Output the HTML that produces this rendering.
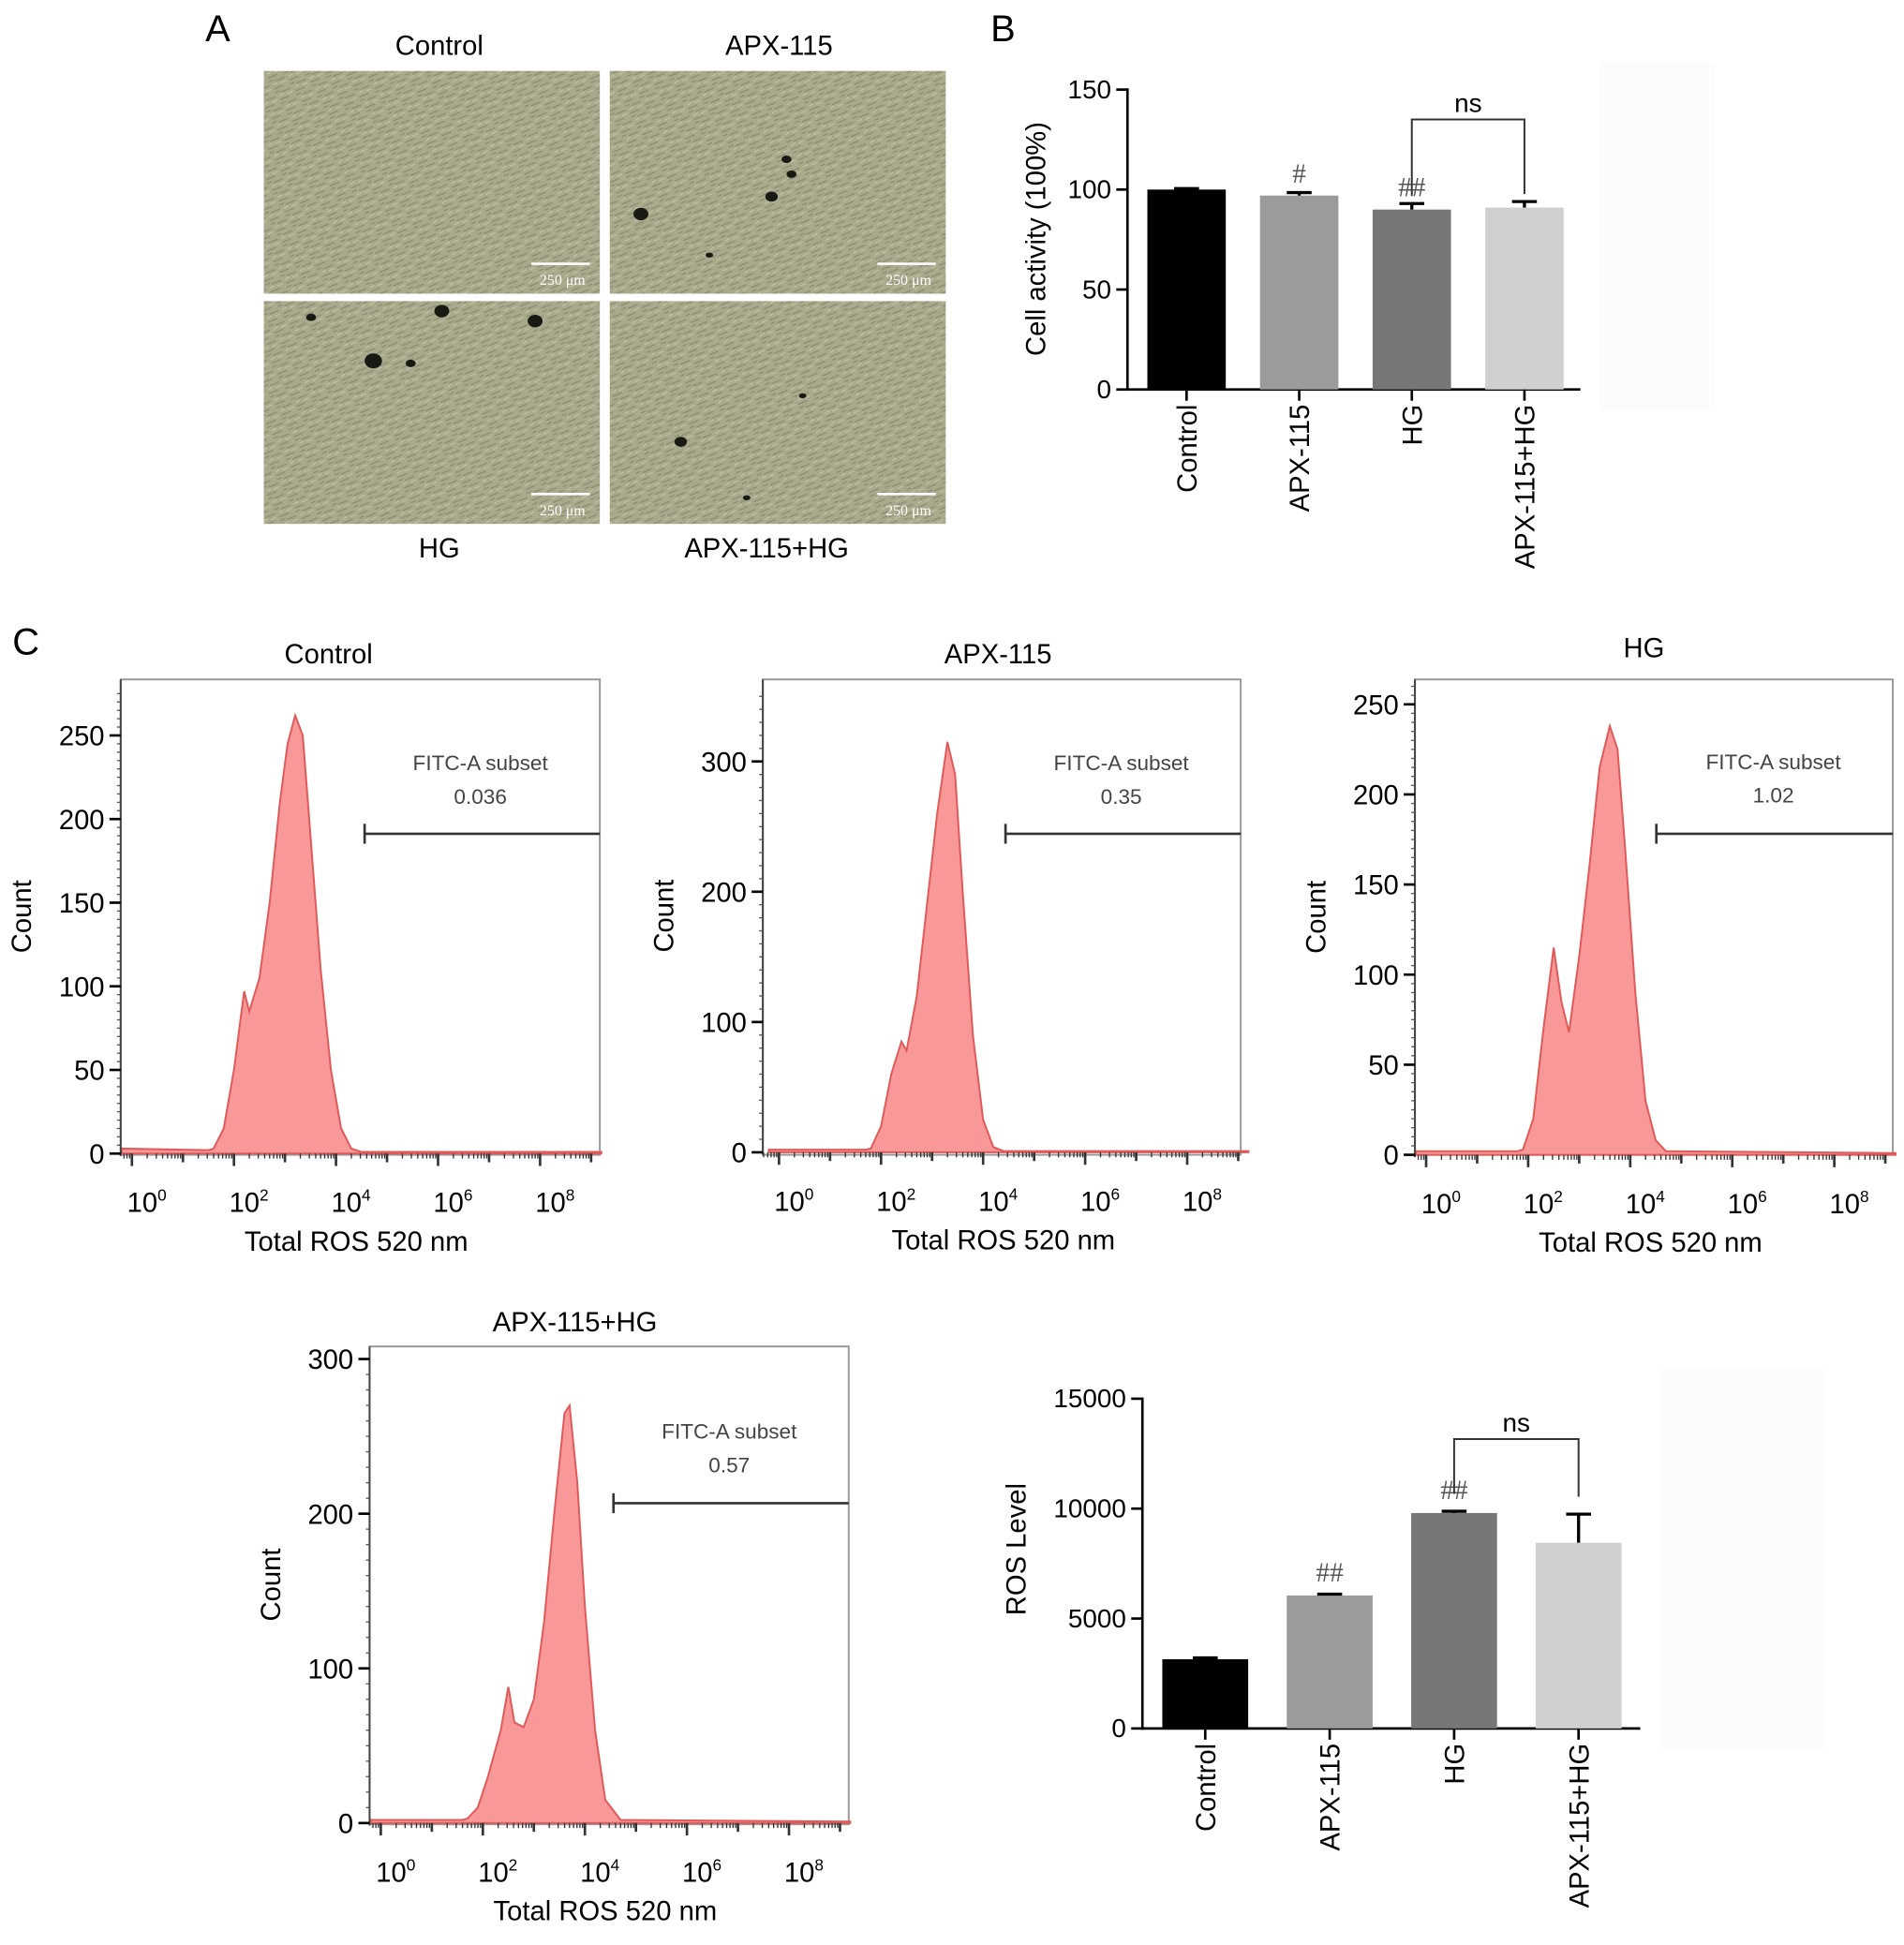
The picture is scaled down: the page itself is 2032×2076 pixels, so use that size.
<!DOCTYPE html>
<html><head><meta charset="utf-8">
<style>
html,body{margin:0;padding:0;background:#fff;}
svg{display:block;font-family:"Liberation Sans",Arial,sans-serif;}
</style></head>
<body>
<svg id="fig" width="2032" height="2076" viewBox="0 0 1530 1563" preserveAspectRatio="none" xmlns="http://www.w3.org/2000/svg">
<defs>
<pattern id="cells" width="14" height="10" patternUnits="userSpaceOnUse" patternTransform="rotate(-30)">
<rect width="14" height="10" fill="#a9a98c"/>
<path d="M1 2 L9 3 M5 7 L13 8 M0 5 L4 5.5" stroke="#8c8c74" stroke-width="1"/>
<path d="M8 0.5 L13 1 M2 9 L6 9" stroke="#c4c4aa" stroke-width="0.8"/>
</pattern>
</defs>
<g id="root"></g>
</svg>
<script>
// ---------- data ----------
const barCats = ["Control","APX-115","HG","APX-115+HG"];
const cellActivity = [100, 97, 90, 91];
const cellActivityErr = [0.5, 1.5, 3, 3];
const cellTicks = [0, 50, 100, 150];
const rosLevel = [3150, 6050, 9800, 8450];
const rosErr = [60, 60, 80, 1300];
const rosTicks = [0, 5000, 10000, 15000];
const barColors = ["#000000","#9b9b9b","#777777","#d0d0d0"];
const histTitles = ["Control","APX-115","HG","APX-115+HG"];
const histSubset = ["0.036","0.35","1.02","0.57"];
const histYTicks0 = [0,50,100,150,200,250];
const histYTicks1 = [0,100,200,300];
const histYTicks2 = [0,50,100,150,200,250];
const histYTicks3 = [0,100,200,300];
const histLog0 = [-0.2,1.5,1.6,1.8,2.0,2.2,2.3,2.5,2.7,2.9,3.05,3.2,3.35,3.5,3.7,3.9,4.1,4.3,4.5,9.2];
const histCnt0 = [3,2,3,15,50,97,85,105,150,210,245,262,250,190,110,50,15,3,1,1];
const histLog1 = [-0.2,1.7,1.8,2.0,2.2,2.4,2.5,2.7,2.9,3.1,3.3,3.45,3.6,3.8,4.0,4.2,4.4,9.2];
const histCnt1 = [2,2,3,20,60,85,78,120,190,260,315,290,200,90,25,4,1,1];
const histLog2 = [-0.2,1.8,1.9,2.1,2.3,2.5,2.65,2.8,3.0,3.2,3.4,3.6,3.75,3.9,4.1,4.3,4.5,4.7,9.2];
const histCnt2 = [2,2,3,20,70,115,85,68,110,160,215,238,225,170,90,30,8,2,1];
const histLog3 = [-0.2,1.6,1.7,1.9,2.1,2.35,2.5,2.62,2.8,3.0,3.2,3.4,3.6,3.7,3.85,4.0,4.2,4.4,4.7,9.2];
const histCnt3 = [2,2,3,10,30,60,88,65,62,80,130,200,265,270,220,140,60,15,2,1];

const NS="http://www.w3.org/2000/svg";
const root=document.getElementById('root');
function mk(tag,attrs,parent,text){const e=document.createElementNS(NS,tag);for(const k in attrs)e.setAttribute(k,attrs[k]);if(text!==undefined)e.textContent=text;(parent||root).appendChild(e);return e;}

let t;
t=mk('text',{x:165,y:33,'font-size':30},root,'A');

t=mk('text',{x:796,y:33,'font-size':30},root,'B');

t=mk('text',{x:10,y:526,'font-size':30},root,'C');


const mics=[[212,57,"Control",353,44],[490,57,"APX-115",626,44],[212,242,"HG",353,448],[490,242,"APX-115+HG",616,448]];
const spots=[[],[[515,172,5],[620,158,4],[632,128,3],[636,140,3],[570,205,2]],[[300,290,6],[355,250,5],[430,258,5],[250,255,3],[330,292,3]],[[547,355,4],[645,318,2],[600,400,2]]];
mics.forEach((m,i)=>{
  const g=mk('g',{});
  
  
  mk('rect',{x:m[0],y:m[1],width:270,height:179,fill:'url(#cells)'},g);
  spots[i].forEach(s=>mk('ellipse',{cx:s[0],cy:s[1],rx:s[2]+1,ry:s[2],fill:'#1a1a14'},g));
  mk('line',{x1:m[0]+215,y1:m[1]+155,x2:m[0]+262,y2:m[1]+155,stroke:'#fff','stroke-width':2},g);
  mk('text',{x:m[0]+240,y:m[1]+172,'font-size':12,fill:'#fff','text-anchor':'middle','font-family':'Liberation Serif'},g,'250 μm');
  const tt=mk('text',{x:m[3],y:m[4],'font-size':22,'text-anchor':'middle'},root,m[2]);
  
});

function barChart(o){
  const g=mk('g',{});
  
  mk('rect',{x:o.bgx,y:o.bgy,width:o.bgw,height:o.bgh,fill:'#fcfcfc'},g);
  const yS=v=>o.y0-(v/o.max)*(o.y0-o.yTop);
  mk('line',{x1:o.x0,y1:o.yTop-1,x2:o.x0,y2:o.y0+1,stroke:'#000','stroke-width':2},g);
  mk('line',{x1:o.x0,y1:o.y0,x2:o.xEnd,y2:o.y0,stroke:'#000','stroke-width':2},g);
  o.ticks.forEach(v=>{
    mk('line',{x1:o.x0-9,y1:yS(v),x2:o.x0,y2:yS(v),stroke:'#000','stroke-width':2},g);
    const tl=mk('text',{x:o.x0-13,y:yS(v)+7,'font-size':21,'text-anchor':'end'},g,String(v));
    
  });
  const yt=mk('text',{x:0,y:0,'font-size':22,'text-anchor':'middle',transform:`translate(${o.titleX},${o.titleY}) rotate(-90)`},g,o.title);
  
  const cx=[];
  o.vals.forEach((v,i)=>{
    const x=o.x0+o.first+i*o.step; cx.push(x+o.bw/2);
    const r=mk('rect',{x:x,y:yS(v),width:o.bw,height:o.y0-yS(v),fill:barColors[i]},g);
    
    
    const ey=yS(v+o.errs[i]);
    mk('line',{x1:x+o.bw/2,y1:yS(v),x2:x+o.bw/2,y2:ey,stroke:'#000','stroke-width':2.5},g);
    mk('line',{x1:x+o.bw/2-10,y1:ey,x2:x+o.bw/2+10,y2:ey,stroke:'#000','stroke-width':2.5},g);
    mk('line',{x1:x+o.bw/2,y1:o.y0,x2:x+o.bw/2,y2:o.y0+9,stroke:'#000','stroke-width':2},g);
    const cl=mk('text',{x:0,y:0,'font-size':22,'text-anchor':'end',transform:`translate(${x+o.bw/2+8},${o.y0+12}) rotate(-90)`},g,barCats[i]);
    
  });
  o.marks.forEach(m=>{
    const a=mk('text',{x:cx[m[0]],y:yS(o.vals[m[0]]+o.errs[m[0]])-m[2],'font-size':22,'text-anchor':'middle',fill:'#555','font-family':'Liberation Serif'},g,m[1]);
    
  });
  const b1=yS(o.vals[2]+o.errs[2])-o.gap, b2=yS(o.vals[3]+o.errs[3])-o.gap;
  const by=Math.min(b1,b2)-o.bh;
  mk('polyline',{points:`${cx[2]},${b1} ${cx[2]},${by} ${cx[3]},${by} ${cx[3]},${b2}`,fill:'none',stroke:'#333','stroke-width':1.5},g);
  const ns=mk('text',{x:(cx[2]+cx[3])/2,y:by-6,'font-size':21,'text-anchor':'middle'},g,'ns');
  
}
barChart({name:'cell-activity-chart',x0:906,y0:313,yTop:72,max:150,xEnd:1270,first:16,step:90.5,bw:63,vals:cellActivity,errs:cellActivityErr,ticks:cellTicks,
  title:'Cell activity (100%)',titleX:840,titleY:192,marks:[[1,'#',8],[2,'##',6]],gap:6,bh:60,bgx:1285,bgy:50,bgw:93,bgh:280});
barChart({name:'ros-level-chart',x0:918,y0:1389,yTop:1124,max:15000,xEnd:1318,first:16,step:100,bw:69,vals:rosLevel,errs:rosErr,ticks:rosTicks,
  title:'ROS Level',titleX:824,titleY:1245,marks:[[1,'##',10],[2,'##',10]],gap:14,bh:44,bgx:1335,bgy:1100,bgw:132,bgh:305});

const H=[
 {bx:97,by:546,bw:385,bh:382,y0:927,yPer:67.2/50,ticks:histYTicks0,xo:106,L:histLog0,C:histCnt0,tx:264,ty:533,gy:670,gx:293,sx:386,sy:613},
 {bx:613,by:546,bw:384,bh:382,y0:926,yPer:104.7/100,ticks:histYTicks1,xo:626,L:histLog1,C:histCnt1,tx:802,ty:533,gy:670,gx:808,sx:901,sy:613},
 {bx:1137,by:546,bw:384,bh:382,y0:928,yPer:72.4/50,ticks:histYTicks2,xo:1146,L:histLog2,C:histCnt2,tx:1321,ty:528,gy:670,gx:1331,sx:1425,sy:612},
 {bx:297,by:1082,bw:385,bh:384,y0:1465,yPer:124.3/100,ticks:histYTicks3,xo:306,L:histLog3,C:histCnt3,tx:462,ty:1070,gy:1208,gx:493,sx:586,sy:1150}
];
H.forEach((h,i)=>{
  const g=mk('g',{});
  
  
  const xS=l=>h.xo+41*l, yS=c=>h.y0-c*h.yPer;
  mk('rect',{x:h.bx,y:h.by,width:h.bw,height:h.bh,fill:'none',stroke:'#999','stroke-width':1.5},g);
  let d=`M${xS(h.L[0])},${h.y0}`;
  h.L.forEach((l,k)=>{d+=` L${xS(l).toFixed(1)},${yS(h.C[k]).toFixed(1)}`;});
  d+=` L${xS(h.L[h.L.length-1])},${h.y0} Z`;
  const p=mk('path',{d:d,fill:'#f89898',stroke:'#e05a5a','stroke-width':1.5},g);
  
  mk('line',{x1:h.bx,y1:h.by,x2:h.bx,y2:h.y0+2,stroke:'#444','stroke-width':1.5},g);
  const step=h.ticks[1]-h.ticks[0];
  for(let v=0;v<=h.ticks[h.ticks.length-1]+step*0.5;v+=step/10){
    if(yS(v)<h.by)break;
    mk('line',{x1:h.bx-3,y1:yS(v),x2:h.bx,y2:yS(v),stroke:'#555','stroke-width':1},g);
  }
  h.ticks.forEach(v=>{
    mk('line',{x1:h.bx-9,y1:yS(v),x2:h.bx,y2:yS(v),stroke:'#000','stroke-width':2},g);
    const tl=mk('text',{x:h.bx-13,y:yS(v)+8,'font-size':22,'text-anchor':'end'},g,String(v));
    
  });
  const yt=mk('text',{x:0,y:0,'font-size':22,'text-anchor':'middle',transform:`translate(${h.bx-72},${(h.by+h.y0)/2}) rotate(-90)`},g,'Count');
  
  for(let dcd=-1;dcd<=9;dcd++){
    for(let k=1;k<10;k++){
      const l=dcd+Math.log10(k), x=xS(l);
      if(x<h.bx||x>h.bx+h.bw)continue;
      const len=k===1?(dcd%2===0?10:7):4;
      mk('line',{x1:x,y1:h.y0,x2:x,y2:h.y0+len,stroke:'#333','stroke-width':k===1?2:1},g);
    }
  }
  [0,2,4,6,8].forEach(e=>{
    const tl=mk('text',{x:xS(e)+12,y:h.y0+47,'font-size':22,'text-anchor':'middle'},g);
    
    mk('tspan',{},tl,'10');
    mk('tspan',{dy:-9,'font-size':13},tl,String(e));
  });
  const xt=mk('text',{x:xS(4.3)+4,y:h.y0+78,'font-size':22,'text-anchor':'middle'},g,'Total ROS 520 nm');
  
  const tt=mk('text',{x:h.tx,y:h.ty,'font-size':22,'text-anchor':'middle'},g,histTitles[i]);
  
  const gg=mk('g',{},g);
  
  mk('line',{x1:h.gx,y1:h.gy,x2:h.bx+h.bw,y2:h.gy,stroke:'#333','stroke-width':2},gg);
  mk('line',{x1:h.gx,y1:h.gy-8,x2:h.gx,y2:h.gy+8,stroke:'#333','stroke-width':2},gg);
  const s1=mk('text',{x:h.sx,y:h.sy+6,'font-size':17,'text-anchor':'middle',fill:'#444'},g,'FITC-A subset');
  
  const s2=mk('text',{x:h.sx,y:h.sy+33,'font-size':17,'text-anchor':'middle',fill:'#444'},g,histSubset[i]);
  
});
</script>
</body></html>
